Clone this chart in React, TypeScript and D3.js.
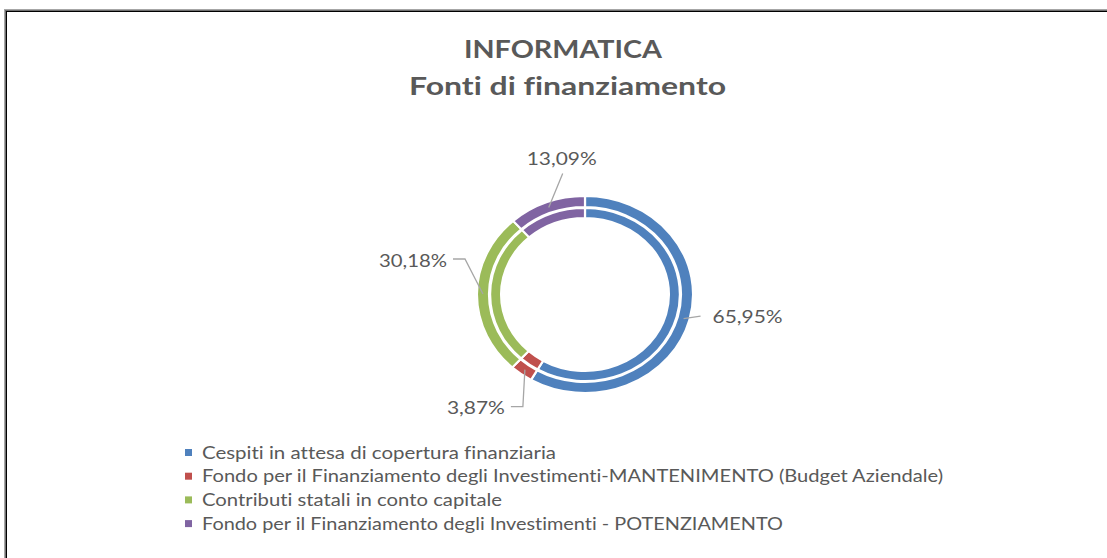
import React from 'react';
import * as d3 from 'd3';

// Fonti di finanziamento - INFORMATICA
const categories = [
  'Cespiti in attesa di copertura finanziaria',
  'Fondo per il Finanziamento degli Investimenti-MANTENIMENTO (Budget Aziendale)',
  'Contributi statali in conto capitale',
  'Fondo per il Finanziamento degli Investimenti - POTENZIAMENTO',
];
const shares = [65.95, 3.87, 30.18, 13.09];
const valueLabels = ['65,95%', '3,87%', '30,18%', '13,09%'];
const colors = ['#4F81BD', '#C0504D', '#9BBB59', '#8064A2'];

const W = 1107;
const H = 558;
const FONT = 'Lato, "Open Sans", sans-serif';
const TEXT = '#595959';
const noLig = { fontVariantLigatures: 'none', fontFeatureSettings: '"liga" 0, "clig" 0' } as React.CSSProperties;

// chart picture is slightly stretched horizontally
const cx = 585;
const cy = 294.5;
const sx = 1.097;

// leader line bends + label spot, relative to slice centroid on outer ring
const labelLayout = [
  { pts: [[17, -2.5]], text: [29, -1.5], anchor: 'start', len: 70 },
  { pts: [[-2, 37], [-14, 37]], text: [-20, 38], anchor: 'end', len: 58 },
  { pts: [[-18, -35], [-30, -35]], text: [-36, -33], anchor: 'end', len: 68 },
  { pts: [[14, -34]], text: [13, -48.5], anchor: 'middle', len: 70 },
];
const legendWidths = [354, 741, 300, 581];

export default function App() {
  const pie = d3.pie<number>().sort(null).value(d => d);
  const slices = pie(shares);

  const outerArc = d3.arc<d3.PieArcDatum<number>>().innerRadius(87.5).outerRadius(98.5);
  const innerArc = d3.arc<d3.PieArcDatum<number>>().innerRadius(76.5).outerRadius(86.5);

  return (
    <svg width={W} height={H} style={{ position: 'absolute', left: 0, top: 0, background: '#fff' }}>
      {/* frame */}
      <g fill="none">
        <rect x={4.5} y={9.5} width={W + 20} height={H + 20} stroke="#a6a6a6" />
        <rect x={5.5} y={10.5} width={W + 20} height={H + 20} stroke="#6f6f6f" />
        <rect x={6.5} y={11.5} width={W + 20} height={H + 20} stroke="#000" />
      </g>

      <g fill={TEXT} fontFamily={FONT} fontWeight="bold" fontSize={24} textAnchor="middle">
        <text x={563} y={58} textLength={198} lengthAdjust="spacingAndGlyphs" style={noLig}>INFORMATICA</text>
        <text x={567.5} y={95} textLength={317} lengthAdjust="spacingAndGlyphs" style={noLig}>
          Fonti di finanziamento
        </text>
      </g>

      <g transform={`translate(${cx},${cy}) scale(${sx},1)`}>
        {slices.map((s, i) => (
          <path key={'o' + i} d={outerArc(s) || ''} fill={colors[i]} stroke="#fff" strokeWidth={2} />
        ))}
        {slices.map((s, i) => (
          <path key={'i' + i} d={innerArc(s) || ''} fill={colors[i]} stroke="#fff" strokeWidth={2} />
        ))}
      </g>

      {slices.map((s, i) => {
        const c = outerArc.centroid(s);
        const px = cx + c[0] * sx;
        const py = cy + c[1];
        const lay = labelLayout[i];
        const line = d3.line()([[px, py], ...lay.pts.map(p => [px + p[0], py + p[1]] as [number, number])]);
        return (
          <g key={'l' + i}>
            <path d={line || ''} fill="none" stroke="#a6a6a6" strokeWidth={1.3} />
            <text
              x={px + lay.text[0]}
              y={py + lay.text[1]}
              dy="0.36em"
              textAnchor={lay.anchor}
              fill={TEXT}
              fontFamily={FONT}
              fontSize={17}
              textLength={lay.len}
              lengthAdjust="spacingAndGlyphs"
            >
              {valueLabels[i]}
            </text>
          </g>
        );
      })}

      <g fontFamily={FONT} fontSize={17} fill={TEXT}>
        {categories.map((name, i) => {
          const y = 452.5 + i * 23.7;
          return (
            <g key={name}>
              <rect x={185} y={y - 3.5} width={7} height={7} fill={colors[i]} />
              <text
                x={202}
                y={y}
                dy="0.36em"
                textLength={legendWidths[i]}
                lengthAdjust="spacingAndGlyphs"
                style={noLig}
              >
                {name}
              </text>
            </g>
          );
        })}
      </g>
    </svg>
  );
}
